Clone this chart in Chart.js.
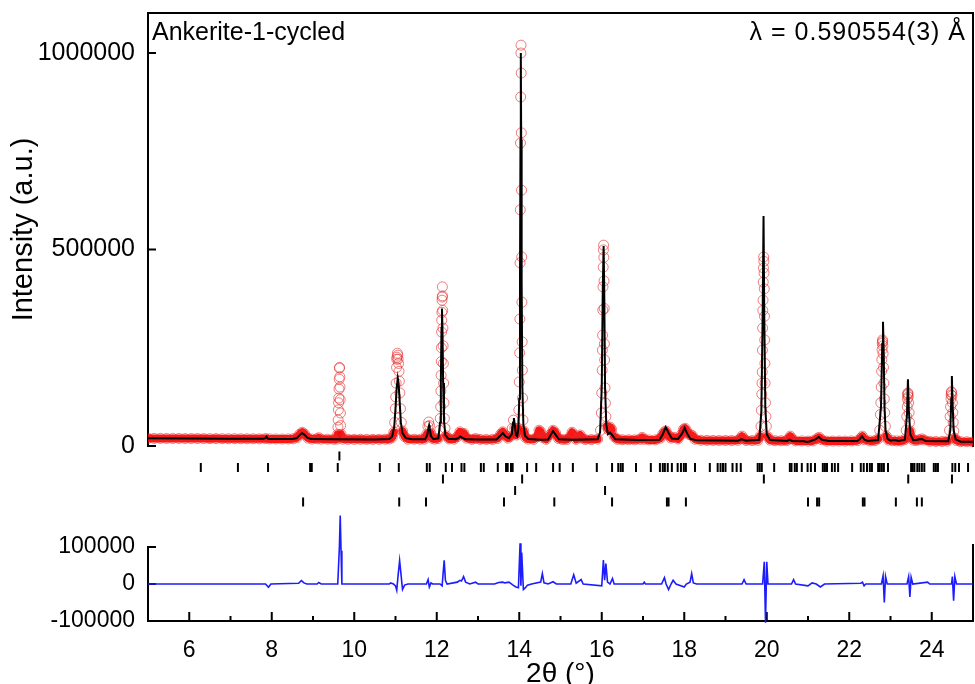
<!DOCTYPE html>
<html lang="en">
<head>
<meta charset="UTF-8">
<title>Ankerite-1-cycled</title>
<script src="https://cdn.jsdelivr.net/npm/chart.js"></script>
<style>
  body { margin: 0; background: #fff; }
  #xrd { display: block; }
</style>
</head>
<body>
<canvas id="xrd" width="975" height="684"></canvas>
<script>
// observed intensity [2theta, counts]
const observed = [
  [5.00,19500],[5.15,19300],[5.30,19400],[5.45,19200],[5.60,19100],[5.75,19200],[5.90,19000],[6.05,18900],
  [6.20,19000],[6.35,18800],[6.50,18700],[6.65,18800],[6.80,18600],[6.95,18500],[7.10,18600],[7.25,18400],
  [7.40,18300],[7.55,18400],[7.70,18200],[7.85,19000],[7.95,18000],[8.10,17900],[8.25,17800],[8.40,17900],
  [8.52,18500],[8.62,22000],[8.68,30000],[8.74,35000],[8.80,30000],[8.88,20000],[8.98,17600],[9.10,18500],
  [9.14,21000],[9.20,17500],[9.35,17300],[9.50,17200],[9.58,17500],
  [9.600,30000],[9.605,48000],[9.610,66000],[9.615,92000],[9.620,110000],[9.625,122000],[9.630,145000],
  [9.635,170000],[9.640,198000],[9.645,200000],[9.650,176000],[9.655,150000],[9.660,118000],[9.665,84000],
  [9.670,52000],[9.680,30000],[9.72,17500],[9.85,17000],[10.00,16900],[10.15,17000],[10.30,16800],
  [10.45,16900],[10.60,17000],[10.75,17200],[10.85,18000],[10.92,22000],
  [10.960,35000],[10.980,60000],[10.995,95000],[11.005,125000],[11.015,160000],[11.025,200000],[11.030,221000],
  [11.035,226000],[11.045,236000],[11.055,231000],[11.065,221000],[11.075,210000],[11.085,190000],
  [11.095,165000],[11.105,135000],[11.120,95000],[11.140,60000],[11.170,38000],[11.220,24000],
  [11.30,17500],[11.45,17300],[11.60,17200],[11.70,17500],[11.760,30000],[11.785,50000],[11.805,61000],
  [11.825,52000],[11.850,32000],[11.880,20000],[11.95,17500],[12.03,19000],
  [12.070,40000],[12.085,70000],[12.095,100000],[12.100,140000],[12.105,180000],[12.110,215000],
  [12.113,250000],[12.117,290000],[12.120,320000],[12.124,340000],[12.128,371000],[12.132,379000],
  [12.136,405000],[12.140,382000],[12.145,345000],[12.150,300000],[12.155,255000],[12.160,210000],
  [12.167,160000],[12.175,110000],[12.185,70000],[12.200,45000],[12.230,26000],
  [12.30,18000],[12.42,17500],[12.50,24000],[12.56,36000],[12.62,30000],[12.66,32000],[12.72,20000],
  [12.85,17000],[12.94,19000],[13.05,16800],[13.20,16700],[13.35,16800],[13.47,19000],[13.55,30000],
  [13.60,36000],[13.65,28000],[13.72,20000],[13.78,24000],[13.83,45000],[13.86,66000],[13.89,45000],
  [13.93,28000],
  [13.970,45000],[13.990,92000],[14.000,163000],[14.010,237000],[14.015,323000],[14.020,466000],
  [14.025,601000],[14.030,771000],[14.035,888000],[14.040,1000000],[14.043,1020000],[14.047,949000],
  [14.050,797000],[14.055,651000],[14.060,481000],[14.065,366000],[14.070,265000],[14.075,193000],
  [14.080,122000],[14.090,66000],[14.110,38000],[14.150,22000],
  [14.22,17500],[14.35,17000],[14.44,24000],[14.48,40000],[14.52,36000],[14.56,22000],[14.65,17000],
  [14.76,30000],[14.82,40000],[14.88,33000],[14.95,19000],[15.05,16500],[15.15,16500],[15.24,25000],
  [15.28,35000],[15.32,28000],[15.38,17000],[15.44,22000],[15.48,28000],[15.52,20000],[15.60,16500],
  [15.75,16400],[15.90,17500],
  [15.970,40000],[15.990,84000],[16.000,135000],[16.010,193000],[16.015,244000],[16.020,282000],
  [16.025,346000],[16.030,405000],[16.035,455000],[16.040,499000],[16.045,511000],[16.050,480000],
  [16.055,420000],[16.060,350000],[16.065,260000],[16.070,219000],[16.080,148000],[16.090,109000],
  [16.100,75000],[16.120,50000],[16.16,42000],[16.20,48000],[16.24,42000],[16.30,24000],[16.38,17000],
  [16.50,16000],[16.65,15800],[16.80,15700],[16.93,17000],[16.98,22000],[17.03,17000],[17.15,15500],
  [17.30,15500],[17.42,20000],[17.48,30000],[17.52,36000],[17.56,38000],[17.61,28000],[17.68,20000],
  [17.75,22000],[17.85,18000],[17.94,30000],[17.98,42000],[18.02,45000],[18.06,38000],[18.10,30000],
  [18.16,28000],[18.20,26000],[18.26,17000],[18.40,14500],[18.55,14300],[18.70,14200],[18.85,14000],
  [19.00,14000],[19.15,13900],[19.30,14500],[19.36,19000],[19.40,25000],[19.44,19000],[19.50,14000],
  [19.65,13800],[19.78,14500],
  [19.840,25000],[19.860,50000],[19.870,91000],[19.880,132000],[19.885,160000],[19.890,188000],
  [19.895,244000],[19.900,300000],[19.905,345000],[19.910,371000],[19.915,417000],[19.920,453000],
  [19.925,481000],[19.930,470000],[19.935,440000],[19.940,400000],[19.945,330000],[19.950,270000],
  [19.955,210000],[19.960,160000],[19.970,110000],[19.980,75000],[19.990,50000],[20.020,24000],
  [20.08,15000],[20.20,13500],[20.35,13300],[20.48,13500],[20.53,18000],[20.57,25000],[20.61,18000],
  [20.70,13000],[20.85,12800],[21.00,12500],[21.12,13000],[21.22,19000],[21.27,22000],[21.33,16000],
  [21.45,12500],[21.60,12500],[21.75,12600],[21.90,12500],[22.05,12800],[22.20,13500],[22.28,20000],
  [22.32,25000],[22.37,16000],[22.50,13000],[22.62,13500],[22.70,18000],
  [22.740,40000],[22.755,80000],[22.765,110000],[22.775,150000],[22.785,190000],[22.790,220000],
  [22.795,245000],[22.800,262000],[22.805,270000],[22.810,266000],[22.815,255000],[22.820,235000],
  [22.830,200000],[22.840,160000],[22.850,120000],[22.860,85000],[22.875,50000],[22.900,25000],
  [22.95,15000],[23.05,13500],[23.15,13000],[23.25,12800],[23.34,16000],
  [23.380,40000],[23.395,75000],[23.405,100000],[23.410,120000],[23.415,130000],[23.420,135000],
  [23.425,133000],[23.430,125000],[23.440,110000],[23.450,85000],[23.460,60000],[23.475,38000],
  [23.500,22000],[23.55,15000],[23.62,14000],[23.70,16000],[23.76,18000],[23.82,15000],[23.95,12000],
  [24.10,11500],[24.25,11500],[24.38,12500],
  [24.430,40000],[24.445,75000],[24.455,100000],[24.465,120000],[24.470,130000],[24.475,138000],
  [24.480,136000],[24.490,128000],[24.500,110000],[24.510,85000],[24.520,60000],[24.535,38000],
  [24.560,20000],[24.60,14000],[24.70,11000],[24.85,10800],[25.00,10500]
];

// calculated profile
const calculated = [
  [5.00,19500],[6.00,19000],[7.00,18500],[7.80,18200],[7.84,20000],[7.87,24000],[7.90,19000],[7.95,18000],
  [8.50,17700],[8.60,19500],[8.67,27000],[8.73,33000],[8.79,29000],[8.86,21000],[8.95,17600],[9.50,17000],
  [10.50,16800],[10.85,17500],[10.92,24000],[10.97,50000],[11.00,95000],[11.03,150000],[11.055,173000],
  [11.075,160000],[11.10,115000],[11.13,60000],[11.17,33000],[11.25,20000],[11.40,17200],[11.72,17300],
  [11.77,28000],[11.80,47000],[11.815,53000],[11.83,45000],[11.86,25000],[11.92,17500],[12.04,19500],
  [12.08,60000],[12.10,170000],[12.115,300000],[12.127,350000],[12.14,290000],[12.155,160000],
  [12.175,65000],[12.21,28000],[12.28,18500],[12.45,17500],[12.52,19500],[12.57,24000],[12.62,21000],
  [12.70,17000],[13.00,16500],[13.45,16800],[13.52,24000],[13.60,33000],[13.67,24000],[13.75,20000],
  [13.82,30000],[13.85,60000],[13.87,71000],[13.89,55000],[13.92,28000],[13.95,25000],[13.98,45000],
  [14.00,120000],[14.018,430000],[14.03,780000],[14.038,1000000],[14.047,780000],[14.058,420000],
  [14.075,150000],[14.10,55000],[14.14,26000],[14.22,18000],[14.50,16000],[14.70,16500],[14.76,28000],
  [14.82,38000],[14.88,29000],[14.96,17000],[15.30,16000],[15.90,17000],[15.96,35000],[16.00,150000],
  [16.025,400000],[16.045,509000],[16.06,400000],[16.08,150000],[16.11,55000],[16.15,30000],[16.20,34000],
  [16.25,28000],[16.33,17000],[16.90,15000],[17.40,16000],[17.48,30000],[17.55,48000],[17.62,33000],
  [17.70,19000],[17.85,18000],[17.95,32000],[18.01,46000],[18.07,32000],[18.15,18000],[18.30,14500],
  [19.30,13500],[19.38,17000],[19.43,16000],[19.50,13500],[19.82,16000],[19.87,90000],[19.90,330000],
  [19.922,585000],[19.94,330000],[19.965,100000],[20.00,30000],[20.08,15000],[20.50,13000],[20.55,16000],
  [20.62,13000],[20.90,12000],[20.98,10500],[21.05,12000],[21.18,17000],[21.26,23000],[21.34,16000],
  [21.50,12500],[22.20,12500],[22.26,18000],[22.31,25000],[22.37,16000],[22.45,13000],[22.70,15000],
  [22.77,100000],[22.80,260000],[22.818,316000],[22.835,240000],[22.855,100000],[22.88,40000],
  [22.93,18000],[23.00,13500],[23.10,15000],[23.20,12500],[23.35,16000],[23.40,80000],[23.423,170000],
  [23.445,90000],[23.48,30000],[23.55,15000],[23.63,15500],[23.70,17000],[23.76,18000],[23.85,13000],
  [24.40,12000],[24.45,40000],[24.473,120000],[24.488,178000],[24.505,110000],[24.53,40000],[24.58,17000],
  [24.70,11000],[25.00,10500]
];

// observed - calculated
const difference = [
  [5.00,0],[7.85,0],[7.92,-9000],[7.98,0],[8.65,2000],[8.72,9000],[8.78,3000],[8.85,0],[9.10,0],
  [9.14,4000],[9.20,0],[9.60,0],[9.64,100000],[9.66,185000],[9.68,90000],[9.70,0],[10.85,0],[10.88,3000],
  [10.95,0],[11.00,-5000],[11.03,-17000],[11.06,20000],[11.10,63000],[11.13,30000],[11.17,-15000],
  [11.22,-3000],[11.30,0],[11.75,0],[11.79,12000],[11.82,-8000],[11.86,3000],[11.90,0],[12.08,0],
  [12.13,-5000],[12.18,64000],[12.21,10000],[12.25,0],[12.50,5000],[12.56,10000],[12.60,8000],
  [12.65,20000],[12.70,5000],[12.80,0],[12.94,5000],[13.00,0],[13.40,0],[13.50,4000],[13.60,5000],
  [13.65,3000],[13.75,5000],[13.85,-3000],[13.92,-8000],[13.98,-10000],[14.02,110000],[14.04,-5000],
  [14.06,85000],[14.10,-15000],[14.15,-10000],[14.20,-3000],[14.30,0],[14.52,5000],[14.56,28000],
  [14.60,3000],[14.70,0],[14.82,6000],[14.90,0],[15.25,0],[15.32,25000],[15.38,2000],[15.50,12000],
  [15.55,0],[16.00,-5000],[16.04,65000],[16.07,10000],[16.10,55000],[16.14,5000],[16.20,0],[16.26,15000],
  [16.30,0],[17.00,0],[17.03,5000],[17.06,0],[17.45,0],[17.52,17000],[17.56,0],[17.62,-15000],[17.68,0],
  [17.73,10000],[17.80,0],[18.00,-8000],[18.05,0],[18.14,5000],[18.18,28000],[18.22,3000],[18.30,0],
  [19.40,0],[19.45,12000],[19.50,0],[19.90,0],[19.94,60000],[19.97,-105000],[20.00,60000],[20.03,0],
  [20.60,0],[20.65,12000],[20.70,0],[21.00,-5000],[21.10,3000],[21.20,0],[21.30,-8000],[21.40,0],
  [22.28,2000],[22.32,5000],[22.36,-5000],[22.40,0],[22.78,0],[22.82,22000],[22.85,-50000],[22.88,20000],
  [22.92,0],[23.40,0],[23.44,20000],[23.47,-35000],[23.50,18000],[23.54,0],[23.90,5000],[23.95,0],
  [24.48,0],[24.50,20000],[24.53,-45000],[24.56,20000],[24.60,0],[25.00,0]
];

// reflection markers, one row per phase
const reflA = [9.64];
const reflB = [6.28, 7.18, 7.91, 8.93, 8.97, 9.60, 10.62, 11.08, 11.76, 11.83, 12.22, 12.37, 12.60, 12.67,
  13.07, 13.14, 13.48, 13.68, 13.72, 13.80, 13.84, 14.19, 14.41, 14.82, 14.98, 15.30, 15.88, 16.25, 16.40,
  16.46, 16.51, 16.83, 17.19, 17.41, 17.48, 17.53, 17.60, 17.70, 17.84, 17.92, 17.99, 18.04, 18.26, 18.62,
  18.81, 18.88, 18.94, 19.00, 19.17, 19.27, 19.37, 19.78, 19.83, 19.88, 20.18, 20.56, 20.60, 20.68, 20.73,
  20.85, 20.99, 21.07, 21.17, 21.36, 21.41, 21.46, 21.58, 21.65, 21.73, 22.07, 22.28, 22.35, 22.43, 22.50,
  22.55, 22.70, 22.74, 22.79, 22.84, 22.94, 23.50, 23.54, 23.58, 23.65, 23.70, 23.76, 23.82, 24.05, 24.10,
  24.15, 24.50, 24.57, 24.66, 24.88];
const reflC = [12.15, 14.07, 19.93, 23.43, 24.49];
const reflD = [13.90, 16.08];
const reflE = [8.76, 11.09, 11.74, 13.63, 14.85, 16.25, 17.58, 17.62, 18.04, 21.00, 21.22, 21.27, 22.33,
  22.37, 23.13, 23.64, 23.76];

const xTickValues = [6, 8, 10, 12, 14, 16, 18, 20, 22, 24];
const xMinorTicks = [7, 9, 11, 13, 15, 17, 19, 21, 23];
const yTopTicks = [0, 500000, 1000000];
const yDiffTicks = [-100000, 0, 100000];

const FONT = '"Liberation Sans", Arial, sans-serif';
Chart.defaults.font.family = FONT;
Chart.defaults.color = '#000';

const toPts = arr => arr.map(p => ({ x: p[0], y: p[1] }));
const rowPts = (arr, row) => arr.map(v => ({ x: v, y: row }));

const tickStyle = {
  yAxisID: 'yr', showLine: false, pointStyle: 'line', rotation: 90,
  pointRadius: 4.5, pointBorderWidth: 2, pointBorderColor: '#000', order: 0
};

// no edge padding from tick labels, so the plot area stays where it is set
const noPad = s => { s.paddingTop = 0; s.paddingBottom = 0; s.paddingLeft = 0; s.paddingRight = 0; };

// frame, tick marks and the in-plot texts
const framePlugin = {
  id: 'frame',
  beforeDatasetsDraw(chart) {
    const { ctx, chartArea: a, scales } = chart;
    const y0 = scales.y.getPixelForValue(0);
    const d0 = scales.y2.getPixelForValue(100000);
    ctx.save();
    ctx.strokeStyle = '#000';
    ctx.lineWidth = 2;
    ctx.beginPath();
    ctx.moveTo(a.left, y0 + 1); ctx.lineTo(a.left, a.top);
    ctx.lineTo(a.right, a.top); ctx.lineTo(a.right, y0 + 1);
    ctx.moveTo(a.left, d0 - 1); ctx.lineTo(a.left, a.bottom);
    ctx.lineTo(a.right, a.bottom); ctx.lineTo(a.right, d0 - 3);
    yTopTicks.forEach(v => {
      const p = scales.y.getPixelForValue(v);
      ctx.moveTo(a.left, p); ctx.lineTo(a.left + 8, p);
    });
    yDiffTicks.forEach(v => {
      const p = scales.y2.getPixelForValue(v);
      ctx.moveTo(a.left, p); ctx.lineTo(a.left + 8, p);
    });
    xTickValues.forEach(v => {
      const p = scales.x.getPixelForValue(v);
      ctx.moveTo(p, a.bottom); ctx.lineTo(p, a.bottom - 9);
    });
    xMinorTicks.forEach(v => {
      const p = scales.x.getPixelForValue(v);
      ctx.moveTo(p, a.bottom); ctx.lineTo(p, a.bottom - 5);
    });
    ctx.stroke();
    ctx.restore();
  },
  afterDraw(chart) {
    const { ctx, chartArea: a, scales } = chart;
    const y0 = scales.y.getPixelForValue(0);
    ctx.save();
    ctx.fillStyle = '#000';
    ctx.textBaseline = 'middle';
    ctx.font = '25px ' + FONT;
    ctx.textAlign = 'left';
    ctx.fillText('Ankerite-1-cycled', a.left + 4, a.top + 20);
    ctx.textAlign = 'right';
    ctx.letterSpacing = '1px';
    ctx.fillText('λ = 0.590554(3) Å', a.right - 7, a.top + 20);
    ctx.letterSpacing = '0px';
    ctx.translate(24, (a.top + y0) / 2);
    ctx.rotate(-Math.PI / 2);
    ctx.textAlign = 'center';
    ctx.font = '29px ' + FONT;
    ctx.fillText('Intensity (a.u.)', 0, 0);
    ctx.restore();
  }
};

new Chart(document.getElementById('xrd'), {
  type: 'scatter',
  data: {
    datasets: [
      { label: 'phase 1', data: rowPts(reflA, 0), ...tickStyle },
      { label: 'phase 2', data: rowPts(reflB, 1), ...tickStyle },
      { label: 'phase 3', data: rowPts(reflC, 2), ...tickStyle },
      { label: 'phase 4', data: rowPts(reflD, 3), ...tickStyle },
      { label: 'phase 5', data: rowPts(reflE, 4), ...tickStyle },
      {
        label: 'Difference', data: toPts(difference), yAxisID: 'y2', showLine: true, clip: false,
        borderColor: '#1c1cff', borderWidth: 1.6, pointRadius: 0, order: 1
      },
      {
        label: 'Calculated', data: toPts(calculated), yAxisID: 'y', showLine: true,
        borderColor: '#000', borderWidth: 2, pointRadius: 0, order: 2
      },
      {
        label: 'Observed', data: toPts(observed), yAxisID: 'y', showLine: true,
        borderColor: 'rgba(255,0,0,0.92)', borderWidth: 8, borderCapStyle: 'round', borderJoinStyle: 'round',
        pointRadius: 5, pointBorderWidth: 1, pointBorderColor: 'rgba(228,40,40,0.6)',
        pointBackgroundColor: 'rgba(0,0,0,0)', order: 3,
        // the thick band only follows the baseline, peaks show just the circles
        segment: {
          borderColor: c => (Math.abs(c.p1.parsed.y - c.p0.parsed.y) > 17000 ||
            Math.max(c.p0.parsed.y, c.p1.parsed.y) > 50000) ? 'rgba(0,0,0,0)' : undefined
        }
      }
    ]
  },
  options: {
    responsive: false,
    animation: false,
    events: [],
    layout: { autoPadding: false, padding: { top: 13, right: 2, left: 0, bottom: 0 } },
    plugins: { legend: { display: false }, tooltip: { enabled: false } },
    scales: {
      x: {
        type: 'linear', min: 5, max: 25,
        grid: { display: false, drawTicks: false }, border: { display: false },
        afterBuildTicks: s => { s.ticks = xTickValues.map(v => ({ value: v })); },
        afterFit: s => { s.height = 63; noPad(s); },
        ticks: { font: { size: 23 }, padding: 16, maxRotation: 0, autoSkip: false },
        title: { display: true, text: '2θ (°)', font: { size: 28, lineHeight: 1 }, padding: { top: 0, bottom: -4 } }
      },
      // difference panel is listed first: left boxes are stacked in reverse order
      y2: {
        type: 'linear', position: 'left', stack: 'left', stackWeight: 90,
        min: -100000, max: 143243,
        grid: { display: false, drawTicks: false }, border: { display: false },
        afterBuildTicks: s => { s.ticks = yDiffTicks.map(v => ({ value: v })); },
        afterFit: s => { s.width = 148; noPad(s); },
        ticks: { font: { size: 23 }, padding: 13, autoSkip: false, callback: v => String(v) }
      },
      y: {
        type: 'linear', position: 'left', stack: 'left', stackWeight: 518,
        min: -216285, max: 1101781,
        grid: { display: false, drawTicks: false }, border: { display: false },
        afterBuildTicks: s => { s.ticks = yTopTicks.map(v => ({ value: v })); },
        afterFit: s => { s.width = 148; noPad(s); },
        ticks: { font: { size: 25 }, padding: 13, autoSkip: false, callback: v => String(v) }
      },
      yr: { type: 'linear', display: false, reverse: true, min: -38.52, max: 14.35 }
    }
  },
  plugins: [framePlugin]
});
</script>
</body>
</html>
